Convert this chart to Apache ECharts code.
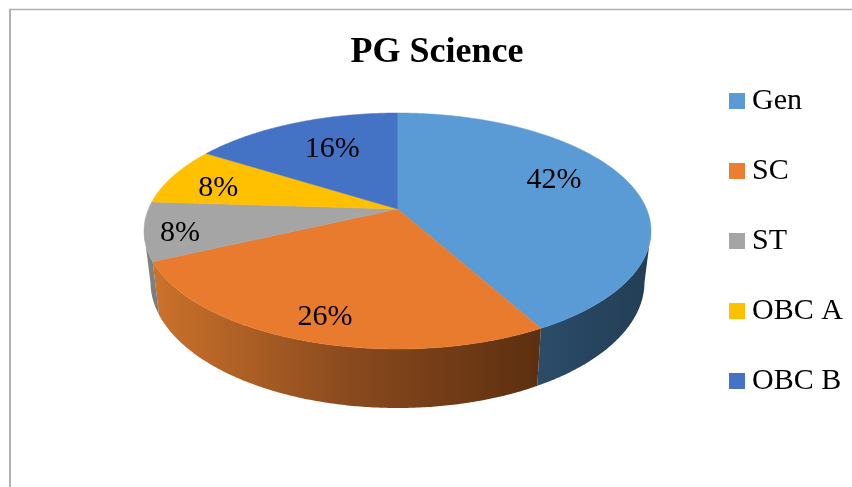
<!DOCTYPE html>
<html>
<head>
<meta charset="utf-8">
<style>
    html, body { margin: 0; padding: 0; background: #fff; }
    #chart { width: 852px; height: 487px; }
</style>
<script src="https://cdn.jsdelivr.net/npm/echarts@6/dist/echarts.min.js"></script>
</head>
<body>
<div id="chart"></div>
<script>
const categories = ["Gen", "SC", "ST", "OBC A", "OBC B"];
const shares = [42, 26, 8, 8, 16];
const colors = ["#5b9bd5", "#ed7d31", "#a5a5a5", "#ffc000", "#4472c4"];
const faceColors = ["#5b9bd5", "#e97b2e", "#a5a5a5", "#ffc000", "#4472c4"];

// label placement, relative to the slice's middle at 70% radius
const labelNudge = [[-7, -10], [-11, 22], [-42, 9], [-20, 3], [10, 3]];

// side wall colours, left to right
const wallStops = [
    ["#2b4c69", "#233d55"],
    ["#cc722b", "#8a4a1e", "#5c2f10"],
    ["#858585", "#7a7a7a"],
    ["#997300", "#997300"],
    ["#2f5597", "#2f5597"],
];

// the pie lies tilted: top ellipse, bottom ellipse, apex pushed up by perspective
const top3d = { cx: 397.5, cy: 231, rx: 253.5, ry: 118 };
const bottom3d = { cx: 397.5, cy: 282, rx: 247, ry: 126 };
const apexShift = 22 / 118;
const shrink = Math.sqrt(1 - apexShift * apexShift);

// angle in degrees clockwise from 12 o'clock, r 0..1 -> point on the unit ellipse
function tilt(deg, r) {
    const a = (deg * Math.PI) / 180;
    const x = Math.sin(a) * r;
    const y = -Math.cos(a) * r;
    const d = 1 - apexShift * y;
    return [(x * shrink) / d, (y - apexShift) / d];
}
function place(p, e) {
    return [e.cx + e.rx * p[0], e.cy + e.ry * p[1]];
}

function renderSlice(params, api) {
    const i = params.seriesIndex;
    const from = api.value(0);
    const to = api.value(1);
    const color = faceColors[i];
    const rim = [];
    for (let d = from; d < to; d += 0.5) rim.push(tilt(d, 1));
    rim.push(tilt(to, 1));

    const children = [];

    // only the part of the rim facing us gets a wall
    const front = rim.filter((p) => p[1] >= 0);
    if (front.length > 1) {
        const wall = front
            .map((p) => place(p, top3d))
            .concat(front.slice().reverse().map((p) => place(p, bottom3d)));
        const xs = wall.map((p) => p[0]);
        const stops = wallStops[i].map((c, n, all) => ({
            offset: n / (all.length - 1),
            color: c,
        }));
        children.push({
            type: "polygon",
            shape: { points: wall },
            style: {
                fill: new echarts.graphic.LinearGradient(
                    Math.min(...xs), 0, Math.max(...xs), 0, stops, true
                ),
            },
        });
    }

    const face = [place(tilt(0, 0), top3d)].concat(rim.map((p) => place(p, top3d)));
    children.push({
        type: "polygon",
        shape: { points: face },
        style: { fill: color, stroke: color, lineWidth: 0.5 },
    });

    const mid = place(tilt((from + to) / 2, 0.7), top3d);
    children.push({
        type: "text",
        z2: 10,
        style: {
            x: mid[0] + labelNudge[i][0],
            y: mid[1] + labelNudge[i][1],
            text: shares[i] + "%",
            fill: "#000",
            font: '30px "Liberation Serif"',
            align: "center",
            verticalAlign: "middle",
        },
    });

    return { type: "group", children };
}

const total = shares.reduce((a, b) => a + b, 0);
let running = 0;
const series = categories.map((name, i) => {
    const from = (running / total) * 360;
    running += shares[i];
    return {
        name,
        type: "custom",
        coordinateSystem: "none",
        renderItem: renderSlice,
        itemStyle: { color: colors[i] },
        data: [[from, (running / total) * 360]],
    };
});

const chart = echarts.init(document.getElementById("chart"), null, { renderer: "canvas" });
chart.setOption({
    animation: false,
    backgroundColor: "#fff",
    title: {
        text: "PG Science",
        left: 432,
        top: 30,
        textAlign: "center",
        textStyle: {
            fontFamily: "Liberation Serif",
            fontSize: 36,
            fontWeight: "bold",
            color: "#000",
        },
    },
    legend: {
        orient: "vertical",
        left: 729,
        top: 86,
        icon: "rect",
        itemWidth: 16,
        itemHeight: 16,
        itemGap: 40,
        data: categories,
        selectedMode: false,
        textStyle: {
            fontFamily: "Liberation Serif",
            fontSize: 30,
            color: "#000",
            padding: [0, 0, 0, 2],
        },
        padding: 0,
    },
    graphic: [
        {
            type: "line",
            shape: { x1: 9, y1: 9.5, x2: 852, y2: 9.5 },
            style: { stroke: "#b0b0b0", lineWidth: 1.5 },
        },
        {
            type: "line",
            shape: { x1: 10, y1: 9, x2: 10, y2: 487 },
            style: { stroke: "#b0b0b0", lineWidth: 2 },
        },
    ],
    series,
});
</script>
</body>
</html>
